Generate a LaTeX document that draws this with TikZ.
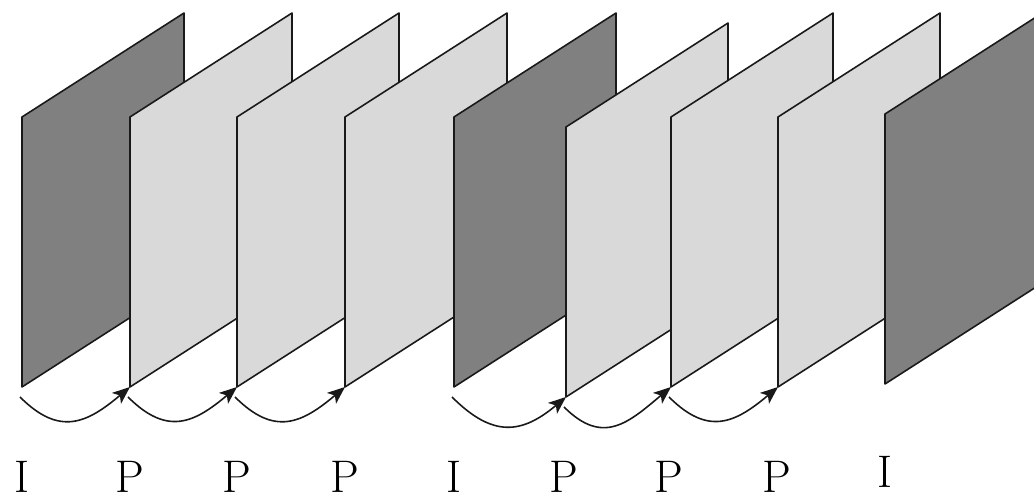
\documentclass[tikz,border=0pt]{standalone}
\usepackage{xcolor}
\definecolor{Icolor}{HTML}{808080}
\definecolor{Pcolor}{HTML}{D9D9D9}
\usepackage{tikz}
\usetikzlibrary{math, arrows.meta}

\begin{document}
\begin{tikzpicture}[x=0.02cm, y=0.02cm]

    \tikzset{%
        pics/frame/.style={%
                code={%

                        \tikzmath{%
                            \wframe=162;
                            \hframe=270;
                            \rise=104;
                        };

                        \filldraw [fill=#1, draw=black!90, line width=0.9pt, line join=round]
                            (0, 0) -- (0, \hframe) -- (\wframe, \hframe+\rise) -- (\wframe, \rise) -- cycle;
                        \coordinate (-bl) at (0, 0);
                        \coordinate (-start) at (-2, -10);

                    }
            },
        gop/.style={-{Stealth[length=10pt, width=8pt, inset=2.5pt]}, line width=0.9pt, black!90,
                out=-45, in=-140, looseness=1.3},
        ftype/.style={inner sep=0pt, anchor=base, font=\fontsize{26}{30}\selectfont}
    }

    \useasboundingbox (0, 0) rectangle (1034, 500);

    \pic (f1) at (22, 113) {frame=Icolor};
    \pic (f2) at (130, 113) {frame=Pcolor};
    \pic (f3) at (237, 113) {frame=Pcolor};
    \pic (f4) at (345, 113) {frame=Pcolor};
    \pic (f5) at (454, 113) {frame=Icolor};
    \pic (f6) at (566, 103) {frame=Pcolor};
    \pic (f7) at (671, 113) {frame=Pcolor};
    \pic (f8) at (778, 113) {frame=Pcolor};
    \pic (f9) at (885, 116) {frame=Icolor};

    \draw [gop] (f1-start) to (f2-bl);
    \draw [gop] (f2-start) to (f3-bl);
    \draw [gop] (f3-start) to (f4-bl);
    \draw [gop] (f5-start) to (f6-bl);
    \draw [gop] (f6-start) to (f7-bl);
    \draw [gop] (f7-start) to (f8-bl);

    \foreach \x/\y/\t [count=\i] in {22/7/I, 130/7/P, 237/7/P, 345/7/P, 454/7/I,
                                     564/7/P, 669/7/P, 777/7/P, 885/12/I} {%
            \node [ftype] (t\i) at (\x, \y) {\t};
        }

\end{tikzpicture}
\end{document}
